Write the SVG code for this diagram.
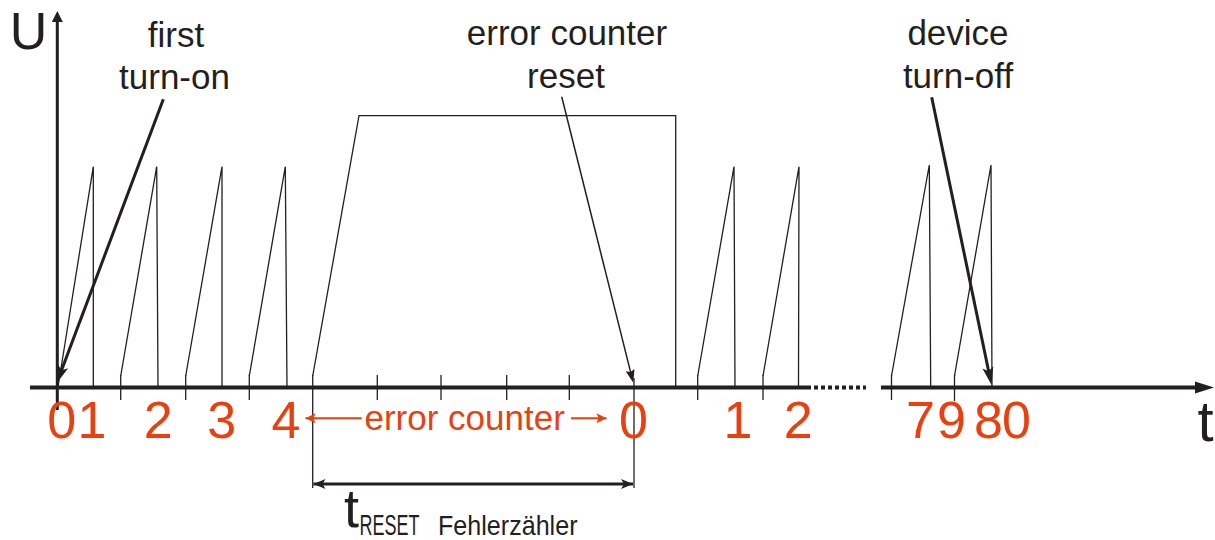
<svg xmlns="http://www.w3.org/2000/svg" width="1215" height="540" viewBox="0 0 1215 540">
<style>
.lbl{font-family:"Liberation Sans",Arial,sans-serif;fill:#231f20;font-size:35px;text-anchor:middle}
.num{font-family:"Liberation Sans",Arial,sans-serif;fill:#e8410f;font-size:52px;text-anchor:middle}
.sig{fill:none;stroke:#231f20;stroke-width:1.3}
.tick{stroke:#231f20;stroke-width:1.3}
.axis{stroke:#231f20;stroke-width:4;fill:none}
.ptr{stroke:#231f20;stroke-width:3;fill:none}
.ptrthin{stroke:#231f20;stroke-width:1.5;fill:none}
.orng{stroke:#e8410f;stroke-width:2;fill:none}
</style>
<defs>
<marker id="hBig" markerUnits="userSpaceOnUse" viewBox="-12 -7 22 14" markerWidth="22" markerHeight="14" refX="0" refY="0" orient="auto">
<path d="M8,0 L-10,-5.5 L-6,0 L-10,5.5 Z" fill="#231f20"/>
</marker>
<marker id="hThin" markerUnits="userSpaceOnUse" viewBox="-10 -6 18 12" markerWidth="18" markerHeight="12" refX="0" refY="0" orient="auto">
<path d="M6,0 L-7,-4.5 L-5,0 L-7,4.5 Z" fill="#231f20"/>
</marker>
<marker id="hDim" markerUnits="userSpaceOnUse" viewBox="-14 -6 16 12" markerWidth="16" markerHeight="12" refX="0" refY="0" orient="auto-start-reverse">
<path d="M0,0 L-12,-5 L-9,0 L-12,5 Z" fill="#231f20"/>
</marker>
<marker id="hOr" markerUnits="userSpaceOnUse" viewBox="-12 -6 14 12" markerWidth="14" markerHeight="12" refX="0" refY="0" orient="auto">
<path d="M0,0 L-10,-5 L-8,0 L-10,5 Z" fill="#e8410f"/>
</marker>
</defs>

<g id="axes">
<line class="axis" x1="30" y1="387.5" x2="811" y2="387.5"/>
<line class="axis" x1="814" y1="387.5" x2="866" y2="387.5" stroke-width="3.5" stroke-dasharray="4 3"/>
<line class="axis" x1="881" y1="387.5" x2="1198" y2="387.5"/>
<path d="M1214,387.5 L1195,381.5 L1195,393.5 Z" fill="#231f20"/>
<line class="axis" x1="57.3" y1="410" x2="57.3" y2="20" style="stroke-width:3"/>
<path d="M57.3,11 L51.8,22 L62.8,22 Z" fill="#231f20"/>
<text class="lbl" x="28.5" y="49" style="font-size:52px">U</text>
<text class="lbl" x="1205.5" y="441" style="font-size:58px">t</text>
</g>

<g id="signal">
<polyline class="sig" points="58,387 93.3,166.7 93.3,387"/>
<polyline class="sig" points="120.7,376 156.7,166.7 158,387"/>
<polyline class="sig" points="185.7,376 222,166.7 222,387"/>
<polyline class="sig" points="249.3,376 285.3,166.7 287,387"/>
<polyline class="sig" points="312.7,376 359,115.7 675.7,115.7 675.7,387"/>
<polyline class="sig" points="697.7,376 734,166.7 735,387"/>
<polyline class="sig" points="763,376 799,166.7 798.5,387"/>
<polyline class="sig" points="891.5,376 929.3,165 930.7,387"/>
<polyline class="sig" points="954.5,376 991,165 992,387"/>
</g>

<g id="ticks">
<line class="tick" x1="120.7" y1="375" x2="120.7" y2="400"/>
<line class="tick" x1="185.7" y1="375" x2="185.7" y2="400"/>
<line class="tick" x1="249.3" y1="375" x2="249.3" y2="400"/>
<line class="tick" x1="377.3" y1="375" x2="377.3" y2="400"/>
<line class="tick" x1="441" y1="375" x2="441" y2="400"/>
<line class="tick" x1="506.7" y1="375" x2="506.7" y2="400"/>
<line class="tick" x1="569.3" y1="375" x2="569.3" y2="400"/>
<line class="tick" x1="697.7" y1="375" x2="697.7" y2="400"/>
<line class="tick" x1="763" y1="375" x2="763" y2="400"/>
<line class="tick" x1="891.5" y1="375" x2="891.5" y2="400"/>
<line class="tick" x1="954.5" y1="375" x2="954.5" y2="401"/>
<line class="tick" x1="312.7" y1="375" x2="312.7" y2="488"/>
<line class="tick" x1="634" y1="378" x2="634" y2="488"/>
</g>

<g id="counts">
<text class="num" x="61.7" y="437.5">0</text>
<text class="num" x="92" y="437.5">1</text>
<text class="num" x="158.3" y="437.5">2</text>
<text class="num" x="221.7" y="437.5">3</text>
<text class="num" x="286" y="437.5">4</text>
<text class="num" x="633.5" y="437.5">0</text>
<text class="num" x="738" y="437.5">1</text>
<text class="num" x="798.2" y="437.5">2</text>
<text class="num" x="920.5" y="437.5">7</text>
<text class="num" x="951.5" y="437.5">9</text>
<text class="num" x="988.5" y="437.5">8</text>
<text class="num" x="1016.5" y="437.5">0</text>
</g>

<g id="label-first-turn-on">
<text class="lbl" x="176" y="47">first</text>
<text class="lbl" x="174.5" y="89">turn-on</text>
</g>
<g id="label-error-counter-reset">
<text class="lbl" x="567" y="45">error counter</text>
<text class="lbl" x="566" y="88">reset</text>
</g>
<g id="label-device-turn-off">
<text class="lbl" x="958" y="45">device</text>
<text class="lbl" x="958" y="88">turn-off</text>
</g>
<g id="label-error-counter">
<text class="lbl" x="464.7" y="430" style="fill:#e8410f">error counter</text>
</g>
<g id="label-treset">
<text class="lbl" x="351.5" y="527" style="font-size:54px">t</text>
<text class="lbl" transform="translate(359.5,535) scale(0.6,1)" x="0" y="0" style="font-size:30px;text-anchor:start">RESET</text>
<text class="lbl" transform="translate(438,535) scale(0.93,1)" x="0" y="0" style="font-size:27px;text-anchor:start">Fehlerzähler</text>
</g>

<g id="connectors">
<line class="ptr" x1="163.3" y1="99.3" x2="59.5" y2="375.8" marker-end="url(#hBig)"/>
<line class="ptrthin" x1="561.7" y1="96.7" x2="631.8" y2="376.9" marker-end="url(#hThin)"/>
<line class="ptr" x1="931.7" y1="97.3" x2="989.9" y2="377.2" marker-end="url(#hBig)"/>
<line class="ptr" x1="313.5" y1="484" x2="633" y2="484" marker-start="url(#hDim)" marker-end="url(#hDim)"/>
<line class="orng" x1="361.7" y1="418.3" x2="305.5" y2="418.3" marker-end="url(#hOr)"/>
<line class="orng" x1="571" y1="418.3" x2="606.5" y2="418.3" marker-end="url(#hOr)"/>
</g>
</svg>
